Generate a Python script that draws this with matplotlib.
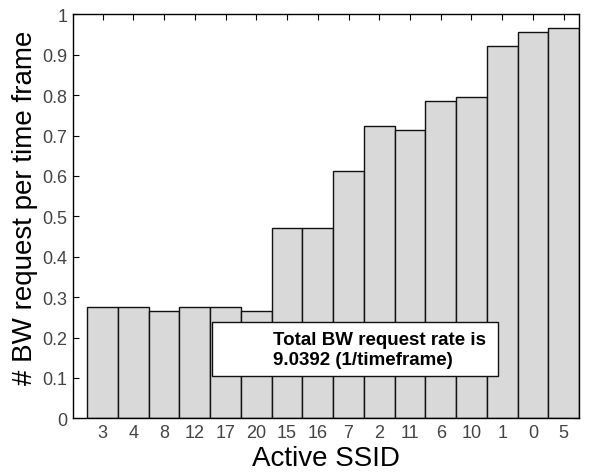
import matplotlib
matplotlib.use("Agg")
import matplotlib.pyplot as plt
from matplotlib.patches import Rectangle

ssid_labels = ["3", "4", "8", "12", "17", "20", "15", "16", "7", "2", "11", "6", "10", "1", "0", "5"]
bw_rates = [0.275, 0.275, 0.266, 0.275, 0.275, 0.266, 0.471, 0.471, 0.613, 0.723, 0.714, 0.785, 0.795, 0.921, 0.957, 0.966]
y_ticks = [0, 0.1, 0.2, 0.3, 0.4, 0.5, 0.6, 0.7, 0.8, 0.9, 1]
y_tick_labels = ["0", "0.1", "0.2", "0.3", "0.4", "0.5", "0.6", "0.7", "0.8", "0.9", "1"]
annotation = "Total BW request rate is\n9.0392 (1/timeframe)"

plt.rcParams['font.family'] = ['Liberation Sans', 'DejaVu Sans']

fig = plt.figure(figsize=(5.94, 4.77), dpi=100)
ax = fig.add_axes([73/594, (477-419.3)/477, 506/594, 404/477])

x = list(range(1, len(bw_rates) + 1))
ax.bar(x, bw_rates, width=1.0, color='#d9d9d9', edgecolor='#111111', linewidth=1.0, zorder=2)

ax.set_xlim(0.035, 16.5)
ax.set_ylim(0, 1)
ax.set_xticks(x)
ax.set_xticklabels(ssid_labels)
ax.set_yticks(y_ticks)
ax.set_yticklabels(y_tick_labels)
ax.tick_params(direction='in', length=4, width=0.8, top=True, right=True,
               labelsize=13, labelcolor='#444444', pad=4)
for s in ax.spines.values():
    s.set_linewidth(1.0)
    s.set_zorder(5)

ax.set_xlabel("Active SSID", fontsize=20, labelpad=3)
ax.set_ylabel("# BW request per time frame", fontsize=20)
ax.yaxis.set_label_coords(-0.069, 0.524)

rect = Rectangle((4.55, 0.105), 13.85 - 4.55, 0.238 - 0.105, facecolor='white',
                 edgecolor='#111111', linewidth=1.0, zorder=3)
ax.add_patch(rect)
ax.text(6.54, 0.170, annotation, fontsize=13.5, fontweight='bold', ha='left', va='center',
        linespacing=1.25, zorder=4)

fig.savefig("out.png", dpi=100)
